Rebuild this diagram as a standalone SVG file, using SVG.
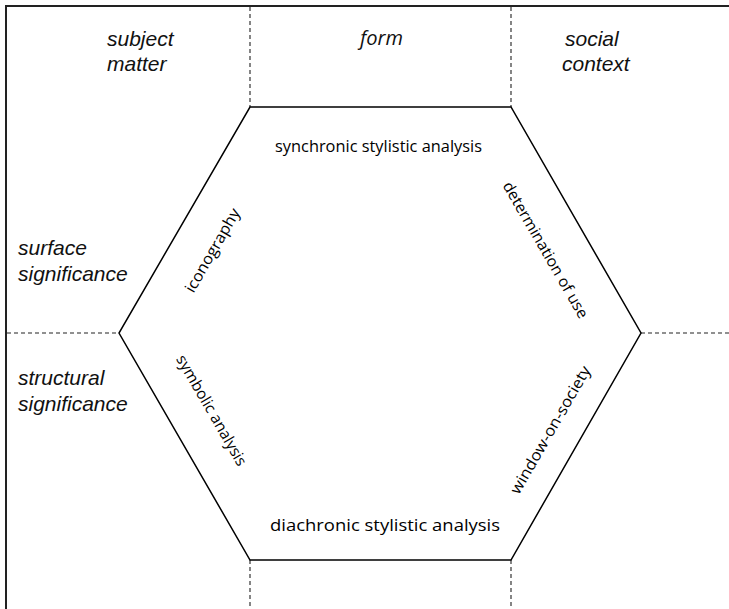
<svg xmlns="http://www.w3.org/2000/svg" width="729" height="609" viewBox="0 0 729 609">
  <style>
    .frame { fill: none; stroke: #222; stroke-width: 2; }
    .hex { fill: none; stroke: #000; stroke-width: 1.5; stroke-linejoin: miter; }
    .divider { fill: none; stroke: #222; stroke-width: 1.1; stroke-dasharray: 4 3; }
    .axis { font-family: "Liberation Sans", Arial, sans-serif; font-style: italic; font-size: 21px; fill: #111; }
    .axis-alt { font-family: "Open Sans", "Noto Sans", sans-serif; font-style: italic; font-size: 20px; fill: #111; }
    .method { font-family: "Open Sans", "Noto Sans", sans-serif; font-size: 15.5px; fill: #000; text-anchor: middle; }
  </style>
  <rect width="729" height="609" fill="#fff"/>

  <!-- outer frame: top and left edges only -->
  <g id="frame">
    <path class="frame" d="M6 609 V6 H729"/>
  </g>

  <!-- dashed dividers between the fields -->
  <g id="connectors">
    <line class="divider" x1="250" y1="7" x2="250" y2="107"/>
    <line class="divider" x1="511" y1="7" x2="511" y2="107"/>
    <line class="divider" x1="250" y1="560" x2="250" y2="609"/>
    <line class="divider" x1="511" y1="560" x2="511" y2="609"/>
    <line class="divider" x1="7" y1="333" x2="119" y2="333"/>
    <line class="divider" x1="641" y1="333" x2="729" y2="333"/>
  </g>

  <!-- central hexagon -->
  <g id="hexagon">
    <polygon class="hex" points="250,107 511,107 641,333 511,560 250,560 119,333"/>
  </g>

  <!-- column headings -->
  <g id="subject-matter">
    <text class="axis" x="107" y="45.5">subject</text>
    <text class="axis" x="107" y="70.5">matter</text>
  </g>
  <g id="form">
    <text class="axis-alt" x="360" y="45" textLength="43" lengthAdjust="spacingAndGlyphs">form</text>
  </g>
  <g id="social-context">
    <text class="axis" x="565" y="45.5">social</text>
    <text class="axis" x="562" y="70.5">context</text>
  </g>

  <!-- row headings -->
  <g id="surface-significance">
    <text class="axis" x="18" y="255">surface</text>
    <text class="axis" x="18" y="281">significance</text>
  </g>
  <g id="structural-significance">
    <text class="axis" x="18" y="385">structural</text>
    <text class="axis" x="18" y="411">significance</text>
  </g>

  <!-- methods along the hexagon edges -->
  <g id="synchronic">
    <text class="method" x="378.5" y="152" textLength="207" lengthAdjust="spacingAndGlyphs">synchronic stylistic analysis</text>
  </g>
  <g id="diachronic">
    <text class="method" x="385" y="531" textLength="230" lengthAdjust="spacingAndGlyphs">diachronic stylistic analysis</text>
  </g>
  <g id="iconography">
    <text class="method" transform="translate(217 253) rotate(-60)" textLength="94" lengthAdjust="spacingAndGlyphs">iconography</text>
  </g>
  <g id="determination">
    <text class="method" transform="translate(541 252.5) rotate(60)" textLength="155" lengthAdjust="spacingAndGlyphs">determination of use</text>
  </g>
  <g id="symbolic">
    <text class="method" transform="translate(207 413) rotate(60)" textLength="125" lengthAdjust="spacingAndGlyphs">symbolic analysis</text>
  </g>
  <g id="window">
    <text class="method" transform="translate(555 432.5) rotate(-60)" textLength="145" lengthAdjust="spacingAndGlyphs">window-on-society</text>
  </g>
</svg>
